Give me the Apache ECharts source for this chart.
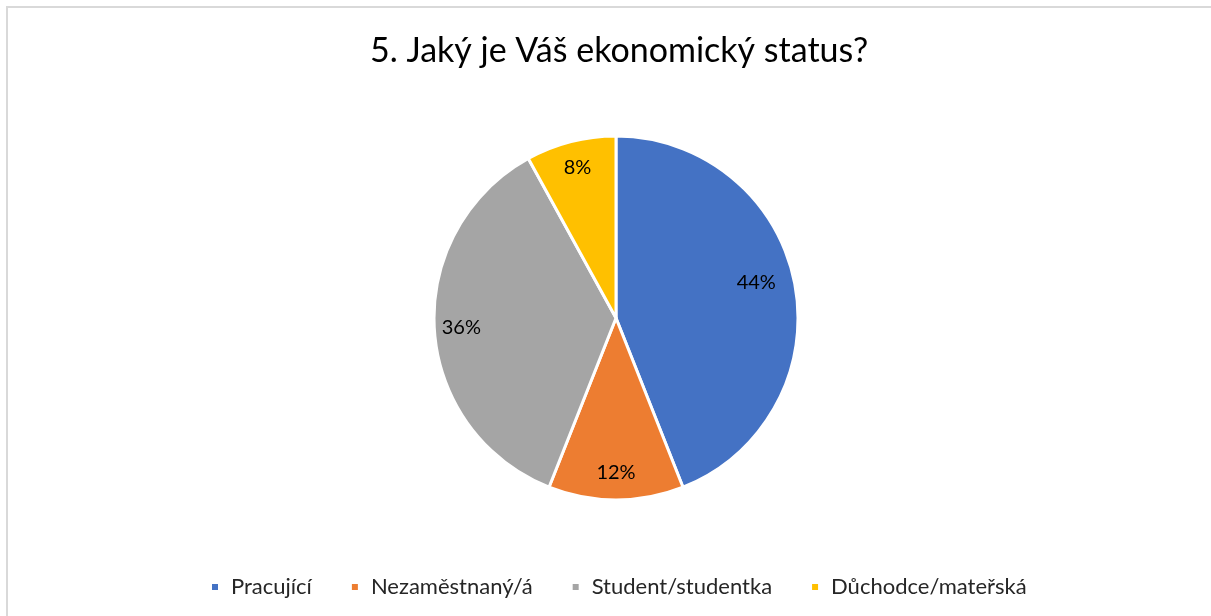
<!DOCTYPE html>
<html>
<head>
<meta charset="utf-8">
<script src="https://cdn.jsdelivr.net/npm/echarts@6/dist/echarts.min.js"></script>
<style>
  html, body { margin: 0; padding: 0; background: #fff; }
  #chart { width: 1211px; height: 616px; }
</style>
</head>
<body>
<div id="chart"></div>
<script>
const categories = ['Pracující', 'Nezaměstnaný/á', 'Student/studentka', 'Důchodce/mateřská'];
const shares = [44, 12, 36, 8];
const colors = ['#4472C4', '#ED7D31', '#A5A5A5', '#FFC000'];

const pieData = categories.map((name, i) => ({ name, value: shares[i] }));
const font = 'Lato, "Noto Sans", sans-serif';

const chart = echarts.init(document.getElementById('chart'), null, { renderer: 'canvas' });

const option = {
  color: colors,
  animation: false,
  title: {
    text: '5. Jaký je Váš ekonomický status?',
    left: 365,
    top: 29,
    textStyle: { fontFamily: font, fontSize: 34, fontWeight: 'normal', color: '#000' }
  },
  legend: {
    top: 571,
    left: 205,
    icon: 'rect',
    itemWidth: 8,
    itemHeight: 8,
    itemGap: 38,
    textStyle: { fontFamily: font, fontSize: 22, color: '#262626', padding: [0, 0, 0, 7] },
    data: categories
  },
  graphic: [{
    type: 'rect',
    shape: { x: 7, y: 7, width: 1230, height: 640 },
    style: { fill: 'none', stroke: '#d9d9d9', lineWidth: 2 },
    silent: true
  }],
  series: [
    {
      // coloured slices
      type: 'pie',
      center: [616, 318],
      radius: 182,
      startAngle: 90,
      clockwise: true,
      label: { show: false },
      labelLine: { show: false },
      itemStyle: { borderColor: '#fff', borderWidth: 3 },
      data: pieData
    },
    {
      // transparent ring that carries the labels
      type: 'pie',
      center: [616, 318],
      radius: [122, 182],
      startAngle: 90,
      clockwise: true,
      silent: true,
      legendHoverLink: false,
      itemStyle: { color: 'rgba(0,0,0,0)' },
      label: {
        show: true,
        position: 'inside',
        formatter: '{c}%',
        fontFamily: font,
        fontSize: 20,
        color: '#000'
      },
      labelLine: { show: false },
      labelLayout: function (params) {
        if (params.dataIndex === 0) return { dx: -12, dy: -6 };
        return {};
      },
      data: pieData
    }
  ]
};

chart.setOption(option);
</script>
</body>
</html>
